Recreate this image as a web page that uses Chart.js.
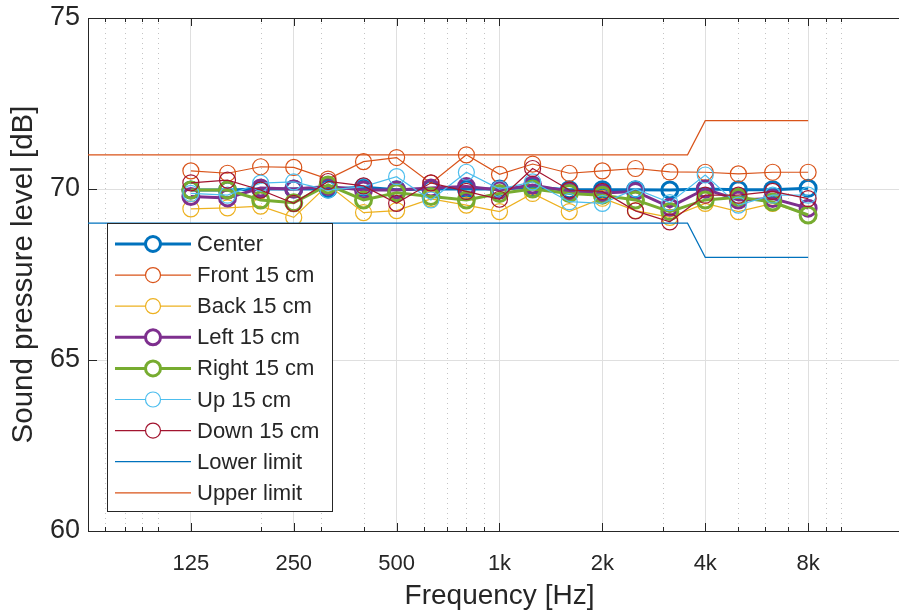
<!DOCTYPE html>
<html>
<head>
<meta charset="utf-8">
<script src="https://cdn.jsdelivr.net/npm/chart.js@4.4.1/dist/chart.umd.min.js"></script>
<style>
  html, body { margin: 0; padding: 0; background: #fff; overflow: hidden; }
  #wrap { width: 899px; height: 612px; overflow: hidden; }
  #spl { display: block; }
</style>
</head>
<body>
<div id="wrap"><canvas id="spl" width="911" height="612"></canvas></div>
<script>
// third-octave bands, 125 Hz .. 8 kHz
const freqs = [125, 160, 200, 250, 315, 400, 500, 630, 800, 1000, 1250, 1600, 2000, 2500, 3150, 4000, 5000, 6300, 8000];

const center  = [69.97, 69.97, 70.0, 70.0, 70.0, 70.05, 69.98, 70.0, 70.0, 70.0, 70.05, 69.98, 69.98, 69.98, 69.97, 70.0, 69.98, 69.98, 70.02];
const front15 = [70.53, 70.46, 70.65, 70.63, 70.29, 70.8, 70.92, 70.17, 71.0, 70.43, 70.73, 70.46, 70.53, 70.6, 70.5, 70.49, 70.44, 70.49, 70.49];
const back15  = [69.42, 69.45, 69.5, 69.17, 70.12, 69.31, 69.37, 69.71, 69.53, 69.34, 69.87, 69.34, 69.73, 69.37, 69.17, 69.58, 69.34, 69.58, 69.24];
const left15  = [69.78, 69.74, 70.03, 70.0, 70.07, 69.97, 69.97, 70.03, 70.07, 69.97, 70.12, 69.93, 69.88, 69.93, 69.47, 70.0, 69.68, 69.72, 69.44];
const right15 = [69.97, 69.97, 69.68, 69.6, 70.12, 69.68, 69.89, 69.78, 69.68, 69.87, 70.0, 69.87, 69.82, 69.68, 69.34, 69.68, 69.76, 69.62, 69.24];
const up15    = [69.87, 69.82, 70.17, 70.21, 69.97, 70.07, 70.36, 69.68, 70.49, 70.0, 70.21, 69.63, 69.58, 70.0, 69.6, 70.41, 69.53, 69.82, 69.82];
const down15  = [70.18, 70.26, 69.97, 69.58, 70.22, 70.09, 69.58, 70.18, 69.93, 69.7, 70.6, 69.97, 69.93, 69.36, 69.04, 69.82, 69.82, 69.93, 69.72];

// tolerance limits
const limitFreqs = [40, 3550, 4000, 8000];
const lowerLimit = [69, 69, 68, 68];
const upperLimit = [71, 71, 72, 72];

// axes
const xTickValues = [125, 250, 500, 1000, 2000, 4000, 8000];
const xTickLabels = ['125', '250', '500', '1k', '2k', '4k', '8k'];
const xMinorValues = [70, 80, 90, 100, 200, 300, 400, 600, 700, 800, 900, 3000, 5000, 6000, 7000, 9000, 10000];
const yTickValues = [60, 65, 70, 75];

const fontFamily = "'Liberation Sans', Arial, Helvetica, sans-serif";
const axisColor = '#262626';

function pts(ys, xs) {
  xs = xs || freqs;
  return xs.map((f, i) => ({ x: f, y: ys[i] }));
}

const series = [
  { label: 'Center',       values: center,  color: '#0072BD', width: 3 },
  { label: 'Front 15 cm',  values: front15, color: '#D95319', width: 1.2 },
  { label: 'Back 15 cm',   values: back15,  color: '#EDB120', width: 1.2 },
  { label: 'Left 15 cm',   values: left15,  color: '#7E2F8E', width: 3 },
  { label: 'Right 15 cm',  values: right15, color: '#77AC30', width: 3 },
  { label: 'Up 15 cm',     values: up15,    color: '#4DBEEE', width: 1.2 },
  { label: 'Down 15 cm',   values: down15,  color: '#A2142F', width: 1.2 },
];

const datasets = series.map((s, i) => ({
  label: s.label,
  data: pts(s.values),
  borderColor: s.color,
  borderWidth: s.width,
  pointRadius: 8,
  pointHoverRadius: 8,
  pointBorderColor: s.color,
  pointBackgroundColor: 'rgba(0,0,0,0)',
  pointBorderWidth: s.width,
  tension: 0,
  order: 20 - i
}));

datasets.push({
  label: 'Lower limit', data: pts(lowerLimit, limitFreqs),
  borderColor: '#0072BD', borderWidth: 1.2, pointRadius: 0, order: 2
});
datasets.push({
  label: 'Upper limit', data: pts(upperLimit, limitFreqs),
  borderColor: '#D95319', borderWidth: 1.2, pointRadius: 0, order: 1
});

// matlab style: dotted minor grid, inward ticks, top box line
const matlabAxes = {
  id: 'matlabAxes',
  beforeDatasetsDraw(chart) {
    const { ctx, chartArea: a, scales: { x } } = chart;
    ctx.save();
    ctx.strokeStyle = '#c4c4c4';
    ctx.lineWidth = 1;
    ctx.setLineDash([1, 4]);
    xMinorValues.forEach(v => {
      const px = Math.round(x.getPixelForValue(v)) + 0.5;
      ctx.beginPath();
      ctx.moveTo(px, a.top);
      ctx.lineTo(px, a.bottom);
      ctx.stroke();
    });
    ctx.restore();
  },
  afterDatasetsDraw(chart) {
    const { ctx, chartArea: a, scales: { x, y } } = chart;
    ctx.save();
    ctx.strokeStyle = axisColor;
    ctx.lineWidth = 1;
    ctx.beginPath();
    ctx.moveTo(a.left, a.top + 0.5);
    ctx.lineTo(a.right, a.top + 0.5);
    const tick = (v, len) => {
      const px = Math.round(x.getPixelForValue(v)) + 0.5;
      ctx.moveTo(px, a.bottom);
      ctx.lineTo(px, a.bottom - len);
      ctx.moveTo(px, a.top);
      ctx.lineTo(px, a.top + len);
    };
    xTickValues.forEach(v => tick(v, 8));
    xMinorValues.forEach(v => tick(v, 4));
    yTickValues.forEach(v => {
      const py = Math.round(y.getPixelForValue(v)) + 0.5;
      ctx.moveTo(a.left, py);
      ctx.lineTo(a.left + 9, py);
    });
    ctx.stroke();
    ctx.restore();
  }
};

// legend box inside the axes, lower left
const legendBox = {
  id: 'legendBox',
  afterDraw(chart) {
    const { ctx } = chart;
    const bx = 107.5, by = 223.5, bw = 225, bh = 288;
    ctx.save();
    ctx.fillStyle = '#fff';
    ctx.fillRect(bx, by, bw, bh);
    ctx.strokeStyle = axisColor;
    ctx.lineWidth = 1;
    ctx.strokeRect(bx, by, bw, bh);
    ctx.font = '22px ' + fontFamily;
    ctx.textBaseline = 'middle';
    ctx.textAlign = 'left';
    chart.data.datasets.forEach((d, i) => {
      const ry = 244 + i * 31.1;
      ctx.strokeStyle = d.borderColor;
      ctx.lineWidth = d.borderWidth;
      ctx.beginPath();
      ctx.moveTo(115, ry);
      ctx.lineTo(191, ry);
      ctx.stroke();
      if (d.pointRadius) {
        ctx.beginPath();
        ctx.arc(153, ry, 7.5, 0, Math.PI * 2);
        ctx.fillStyle = '#fff';
        ctx.fill();
        ctx.stroke();
      }
      ctx.fillStyle = axisColor;
      ctx.fillText(d.label, 197, ry + 1);
    });
    ctx.restore();
  }
};

const splChart = document.getElementById('spl');

new Chart(splChart, {
  type: 'line',
  data: { datasets: datasets },
  options: {
    responsive: false,
    animation: false,
    devicePixelRatio: 1,
    layout: { autoPadding: false, padding: { top: 18, right: 0, left: 0, bottom: 0 } },
    plugins: {
      legend: { display: false },
      tooltip: { enabled: false }
    },
    scales: {
      x: {
        type: 'logarithmic',
        min: 62.5,
        max: 16000,
        afterBuildTicks: s => { s.ticks = xTickValues.map(v => ({ value: v })); },
        afterFit: s => { s.height = 81; s.paddingLeft = 0; s.paddingRight = 0; },
        grid: { color: '#dfdfdf', drawTicks: false },
        border: { color: axisColor },
        ticks: {
          autoSkip: false,
          maxRotation: 0,
          padding: 20,
          color: axisColor,
          font: { family: fontFamily, size: 22 },
          callback: (v, i) => xTickLabels[i]
        },
        title: {
          display: true,
          text: 'Frequency [Hz]',
          color: axisColor,
          font: { family: fontFamily, size: 28, lineHeight: 1.1 },
          padding: { top: 0, bottom: 0 }
        }
      },
      y: {
        min: 60,
        max: 75,
        afterFit: s => { s.width = 88; s.paddingTop = 0; s.paddingBottom = 0; },
        grid: { color: '#dfdfdf', drawTicks: false },
        border: { color: axisColor },
        ticks: {
          stepSize: 5,
          padding: 8,
          color: axisColor,
          font: { family: fontFamily, size: 27 }
        },
        title: {
          display: true,
          text: 'Sound pressure level [dB]',
          color: axisColor,
          font: { family: fontFamily, size: 29.5, lineHeight: 1.1 },
          padding: { top: 8, bottom: 0 }
        }
      }
    }
  },
  plugins: [matlabAxes, legendBox]
});
</script>
</body>
</html>
